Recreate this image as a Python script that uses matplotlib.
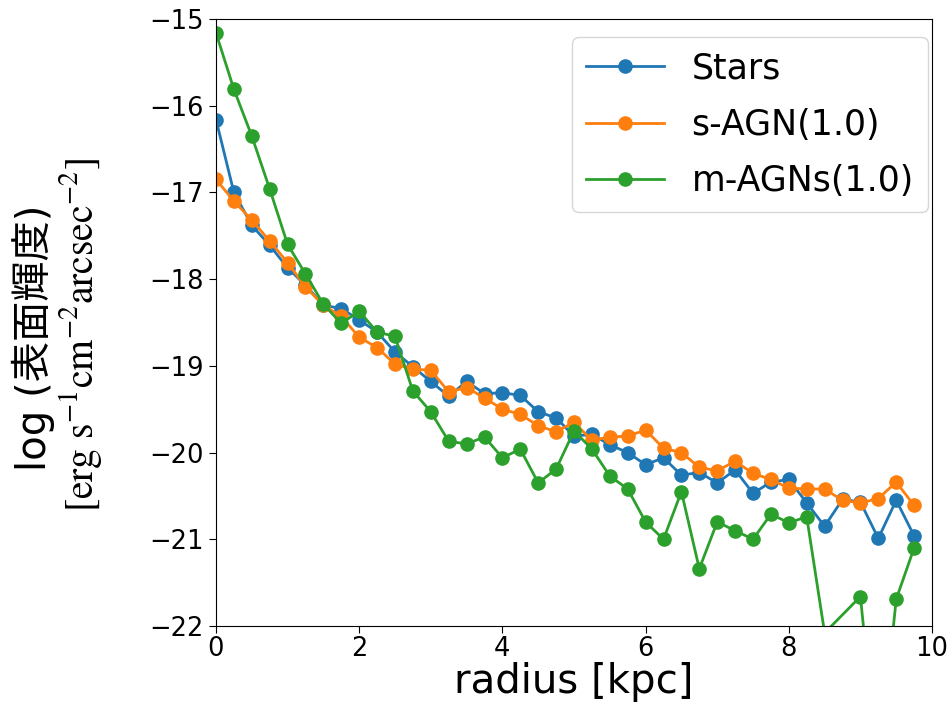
import matplotlib
matplotlib.use("Agg")
import matplotlib.pyplot as plt

# 半径 [kpc]
radius = [0.0, 0.25, 0.5, 0.75, 1.0, 1.25, 1.5, 1.75, 2.0, 2.25,
          2.5, 2.75, 3.0, 3.25, 3.5, 3.75, 4.0, 4.25, 4.5, 4.75,
          5.0, 5.25, 5.5, 5.75, 6.0, 6.25, 6.5, 6.75, 7.0, 7.25,
          7.5, 7.75, 8.0, 8.25, 8.5, 8.75, 9.0, 9.25, 9.5, 9.75]

stars = [-16.16, -17.00, -17.38, -17.61, -17.87, -18.07, -18.30, -18.34, -18.47, -18.61,
         -18.84, -19.01, -19.18, -19.35, -19.18, -19.32, -19.31, -19.34, -19.53, -19.60,
         -19.81, -19.79, -19.91, -20.00, -20.14, -20.06, -20.26, -20.23, -20.35, -20.20,
         -20.47, -20.34, -20.31, -20.58, -20.85, -20.54, -20.57, -20.99, -20.55, -20.96]

s_agn = [-16.85, -17.10, -17.32, -17.56, -17.81, -18.09, -18.30, -18.43, -18.67, -18.79,
         -18.98, -19.04, -19.05, -19.30, -19.25, -19.37, -19.50, -19.56, -19.69, -19.76,
         -19.65, -19.86, -19.82, -19.81, -19.74, -19.95, -20.00, -20.17, -20.21, -20.10,
         -20.24, -20.31, -20.41, -20.42, -20.42, -20.55, -20.58, -20.53, -20.34, -20.61]

# m-AGNs: 8.75 kpc のビンは空
radius_m = [0.0, 0.25, 0.5, 0.75, 1.0, 1.25, 1.5, 1.75, 2.0, 2.25,
            2.5, 2.75, 3.0, 3.25, 3.5, 3.75, 4.0, 4.25, 4.5, 4.75,
            5.0, 5.25, 5.5, 5.75, 6.0, 6.25, 6.5, 6.75, 7.0, 7.25,
            7.5, 7.75, 8.0, 8.25, 8.5, 9.0, 9.25, 9.5, 9.75]
m_agns = [-15.16, -15.81, -16.35, -16.96, -17.60, -17.94, -18.29, -18.51, -18.37, -18.61,
          -18.66, -19.29, -19.53, -19.87, -19.90, -19.82, -20.06, -19.96, -20.35, -20.19,
          -19.75, -19.96, -20.27, -20.42, -20.80, -21.00, -20.45, -21.34, -20.80, -20.90,
          -21.00, -20.71, -20.81, -20.74, -22.08, -21.66, -23.70, -21.69, -21.10]

plt.rcParams['mathtext.fontset'] = 'stix'

fig = plt.figure(figsize=(9.49, 7.06), dpi=100)
ax = fig.add_axes([0.2276, 0.1133, 0.7545, 0.8598])

ax.plot(radius, stars, marker='o', ms=9.5, lw=2, label='Stars')
ax.plot(radius, s_agn, marker='o', ms=9.5, lw=2, label='s-AGN(1.0)')
ax.plot(radius_m, m_agns, marker='o', ms=9.5, lw=2, label='m-AGNs(1.0)')

ax.set_xlim(0, 10)
ax.set_ylim(-22, -15)
ax.tick_params(labelsize=18.5, length=5, pad=4)
ax.tick_params(axis='x', pad=2)
ax.set_xlabel('radius [kpc]', fontsize=29, labelpad=0)

# 縦軸ラベル（2行、フォントが違う）
fig.text(0.035, 0.521, 'log (表面輝度)', rotation=90, ha='center', va='center',
         fontsize=29, family=['DejaVu Sans', 'Noto Sans CJK JP'])
fig.text(0.0854, 0.5255, r'$\mathrm{[erg\ s^{-1}cm^{-2}arcsec^{-2}]}$', rotation=90,
         ha='center', va='center', fontsize=28.5)

ax.legend(fontsize=25, loc='upper right', bbox_to_anchor=(0.994, 0.970),
          borderaxespad=0, handlelength=2.25, labelspacing=0.65)

fig.savefig('out.png', dpi=100)
